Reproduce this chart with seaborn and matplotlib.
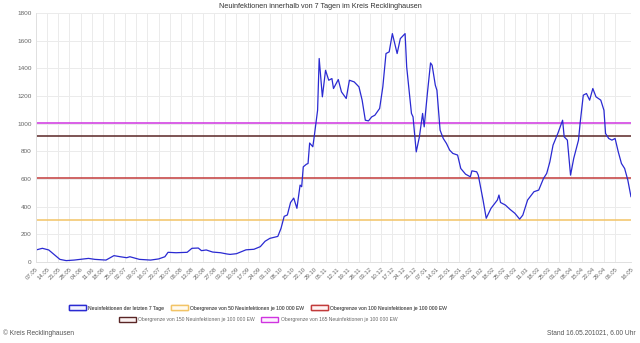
import numpy as np
import pandas as pd
import matplotlib
matplotlib.use("Agg")
import matplotlib.pyplot as plt
import matplotlib.dates as mdates
from matplotlib.patches import Patch
import seaborn as sns

# ---- data ----
start_date = "2020-05-07"
day_offsets = [0, 4, 8, 11, 15, 19, 24, 28, 33, 37, 44, 49, 53, 57, 59, 65, 72, 77, 81, 83,
               88, 95, 98, 102, 104, 107, 111, 116, 120, 122, 126, 132, 137, 141, 144, 147,
               152, 154, 156, 158, 160, 162, 164, 166, 167, 168, 170, 171, 172, 174, 175, 177,
               178, 180, 182, 184, 186, 187, 190, 192, 195, 197, 200, 203, 205, 207, 209, 211,
               213, 216, 218, 220, 222, 224, 227, 229, 232, 233, 236, 237, 239, 241, 243, 244,
               246, 248, 249, 251, 252, 254, 256, 258, 260, 262, 265, 267, 270, 273, 274, 277,
               278, 281, 283, 286, 290, 291, 292, 295, 298, 301, 304, 306, 309, 313, 316, 319,
               321, 323, 325, 328, 331, 332, 334, 336, 338, 341, 342, 344, 346, 348, 350, 352,
               355, 357, 358, 360, 362, 364, 366, 368, 370, 372, 374]
cases_7d = [87, 99, 87, 58, 19, 10, 14, 19, 26, 19, 14, 46, 38, 31, 38, 19, 14, 22, 38, 70,
            67, 70, 99, 101, 82, 87, 72, 67, 58, 55, 60, 88, 92, 111, 150, 171,
            185, 243, 330, 340, 430, 462, 388, 556, 544, 688, 707, 712, 860, 833, 917, 1097,
            1471, 1194, 1386, 1314, 1326, 1254, 1319, 1230, 1182, 1314, 1302, 1266, 1170, 1025, 1020, 1049,
            1061, 1110, 1266, 1507, 1519, 1651, 1507, 1615, 1651, 1410, 1074, 1049, 796, 905, 1074, 977,
            1218, 1439, 1422, 1278, 1242, 953, 893, 857, 809, 785, 773, 676, 635, 616, 659, 652,
            628, 448, 316, 388, 448, 484, 430, 412, 380, 352, 310, 339, 448, 508, 520, 604,
            640, 724, 845, 929, 1025, 905, 881, 628, 749, 881, 1001, 1206, 1218, 1170, 1254, 1194,
            1170, 1097, 929, 893, 881, 893, 796, 712, 676, 592, 471]

threshold_values = [303.5, 607, 910.5, 1001.5]
threshold_labels = ["Obergrenze von 50 Neuinfektionen je 100 000 EW",
                    "Obergrenze von 100 Neuinfektionen je 100 000 EW",
                    "Obergrenze von 150 Neuinfektionen je 100 000 EW",
                    "Obergrenze von 165 Neuinfektionen je 100 000 EW"]
series_label = "Neuinfektionen der letzten 7 Tage"
tick_dates = ["07.05", "14.05", "21.05", "28.05", "04.06", "11.06", "18.06", "25.06", "02.07",
              "09.07", "16.07", "23.07", "30.07", "06.08", "13.08", "20.08", "27.08", "03.09",
              "10.09", "17.09", "24.09", "01.10", "08.10", "15.10", "22.10", "29.10", "05.11",
              "12.11", "19.11", "26.11", "03.12", "10.12", "17.12", "24.12", "31.12", "07.01",
              "14.01", "21.01", "28.01", "04.02", "11.02", "18.02", "25.02", "04.03", "11.03",
              "18.03", "25.03", "01.04", "08.04", "15.04", "22.04", "29.04", "06.05", "16.05"]
tick_years = [2020] * 35 + [2021] * 19

# ---- styling ----
sns.set_style("white")
plt.rcParams['font.family'] = ['Liberation Sans', 'DejaVu Sans']

line_color = "#2a2ad2"
thr_colors = ["#f2c466", "#c23b3b", "#5a2626", "#d034e0"]

df = pd.DataFrame({
    "date": pd.to_datetime(start_date) + pd.to_timedelta(day_offsets, unit="D"),
    "value": cases_7d,
})

fig = plt.figure(figsize=(6.4, 3.43), dpi=100)
ax = fig.add_axes([36 / 640, 1 - 262 / 343, 595 / 640, 249 / 343])

sns.lineplot(data=df, x="date", y="value", ax=ax, color=line_color, linewidth=0.9)
for v, c in zip(threshold_values, thr_colors):
    ax.axhline(v, color=c, linewidth=1.1, zorder=1)

ticks = [pd.Timestamp(f"{y}-{d[3:5]}-{d[0:2]}") for d, y in zip(tick_dates, tick_years)]
ax.set_xticks(ticks)
ax.set_xticklabels(tick_dates, rotation=45, ha="right", rotation_mode="anchor",
                   fontsize=4.3, color="#666666")
ax.set_xlim(ticks[0], ticks[-1])
ax.set_ylim(0, 1800)
ax.set_yticks(range(0, 1801, 200))
ax.tick_params(axis="y", labelsize=4.6, colors="#666666", length=0, pad=3)
ax.tick_params(axis="x", length=2, color="#e0e0e0", pad=1.5)
ax.grid(True, color="#ebebeb", linewidth=0.7)
ax.set_axisbelow(True)
ax.set_xlabel("")
ax.set_ylabel("")
for s in ax.spines.values():
    s.set_color("#e0e0e0")
    s.set_linewidth(0.7)
ax.spines["top"].set_visible(False)
ax.spines["right"].set_visible(False)

fig.text(0.5, 1 - 7 / 343, "Neuinfektionen innerhalb von 7 Tagen im Kreis Recklinghausen",
         ha="center", va="center", fontsize=5.2, color="#333333")

handles1 = [Patch(facecolor="#f4f4ff", edgecolor=line_color, linewidth=1.0, label=series_label),
            Patch(facecolor="#fffaf0", edgecolor=thr_colors[0], linewidth=1.0, label=threshold_labels[0]),
            Patch(facecolor="#fff4f4", edgecolor=thr_colors[1], linewidth=1.0, label=threshold_labels[1])]
handles2 = [Patch(facecolor="#fbf2f2", edgecolor=thr_colors[2], linewidth=1.0, label=threshold_labels[2]),
            Patch(facecolor="#fdf0ff", edgecolor=thr_colors[3], linewidth=1.0, label=threshold_labels[3])]
leg_kw = dict(frameon=False, fontsize=3.6, handlelength=3.4, handleheight=1.1,
              handletextpad=0.5, columnspacing=1.3, labelcolor="#666666",
              borderpad=0, borderaxespad=0)
leg1 = fig.legend(handles=handles1, loc="center", bbox_to_anchor=(258 / 640, 1 - 308 / 343), ncol=3, **leg_kw)
fig.add_artist(leg1)
fig.legend(handles=handles2, loc="center", bbox_to_anchor=(258 / 640, 1 - 319.5 / 343), ncol=2, **leg_kw)

fig.text(3 / 640, 1 - 333 / 343, "© Kreis Recklinghausen", ha="left", va="center",
         fontsize=4.8, color="#555555")
fig.text(636 / 640, 1 - 333 / 343, "Stand 16.05.201021, 6.00 Uhr", ha="right", va="center",
         fontsize=4.8, color="#555555")

fig.savefig("out.png", dpi=100)
